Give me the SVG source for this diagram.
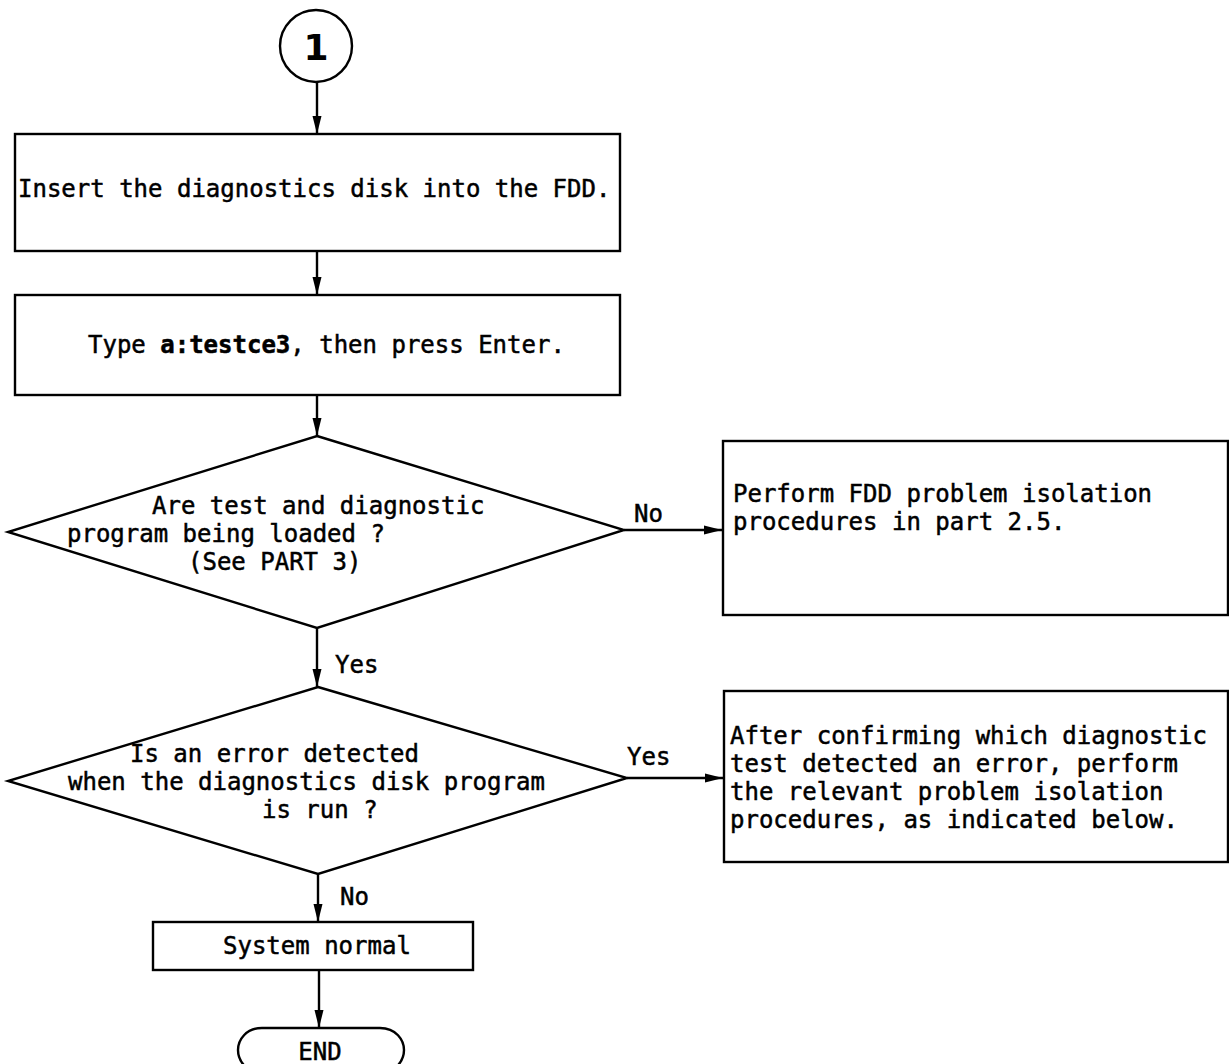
<svg xmlns="http://www.w3.org/2000/svg" width="1229" height="1064" viewBox="0 0 1229 1064">
<defs>
<style>
.s{fill:none;stroke:#000;stroke-width:2.4}
.t{font-family:"DejaVu Sans Mono","Liberation Mono",monospace;font-size:24px;fill:#000;stroke:#000;stroke-width:0.5}
.c{stroke:#000;stroke-width:2.4;fill:none}
.b{font-weight:bold}
</style>
<marker id="ah" markerWidth="18" markerHeight="10" refX="18" refY="5" orient="auto" markerUnits="userSpaceOnUse"><path d="M0,0.5 L18,5 L0,9.5 Z" fill="#000"/></marker>
</defs>
<rect width="1229" height="1064" fill="#fff"/>
<g id="start">
<circle class="s" cx="316" cy="46" r="36"/>
<text x="316" y="60" text-anchor="middle" style="font-family:'DejaVu Sans',sans-serif;font-size:36px;font-weight:bold">1</text>
</g>
<g id="insert">
<rect class="s" x="15" y="134" width="605" height="117"/>
<text class="t" x="18" y="197">Insert the diagnostics disk into the FDD.</text>
</g>
<g id="type">
<rect class="s" x="15" y="295" width="605" height="100"/>
<text class="t" x="88" y="353">Type <tspan class="b">a:testce3</tspan>, then press Enter.</text>
</g>
<g id="decision1">
<polygon class="s" points="317,436 624,530 317,628 8,532"/>
<text class="t" x="152" y="514">Are test and diagnostic</text>
<text class="t" x="67" y="542">program being loaded ?</text>
<text class="t" x="188" y="570">(See PART 3)</text>
</g>
<g id="fdd">
<rect class="s" x="723" y="441" width="505" height="174"/>
<text class="t" x="733" y="502">Perform FDD problem isolation</text>
<text class="t" x="733" y="530">procedures in part 2.5.</text>
</g>
<g id="decision2">
<polygon class="s" points="318,687 627,778 318,874 8,781"/>
<text class="t" x="130" y="762">Is an error detected</text>
<text class="t" x="68" y="790">when the diagnostics disk program</text>
<text class="t" x="262" y="818">is run ?</text>
</g>
<g id="isolate">
<rect class="s" x="724" y="691" width="504" height="171"/>
<text class="t" x="730" y="744">After confirming which diagnostic</text>
<text class="t" x="730" y="772">test detected an error, perform</text>
<text class="t" x="730" y="800">the relevant problem isolation</text>
<text class="t" x="730" y="828">procedures, as indicated below.</text>
</g>
<g id="normal">
<rect class="s" x="153" y="922" width="320" height="48"/>
<text class="t" x="223" y="954">System normal</text>
</g>
<g id="end">
<path class="s" d="M262,1028 H380 C396,1028 404,1040 404,1050 C404,1060 396,1073 380,1073 H262 C246,1073 238,1060 238,1050 C238,1040 246,1028 262,1028 Z"/>
<text class="t" x="320" y="1060" text-anchor="middle">END</text>
</g>
<g id="connectors">
<path class="c" d="M317,82 V134" marker-end="url(#ah)"/>
<path class="c" d="M317,251 V295" marker-end="url(#ah)"/>
<path class="c" d="M317,395 V436" marker-end="url(#ah)"/>
<path class="c" d="M624,530 H722" marker-end="url(#ah)"/>
<path class="c" d="M317,628 V687" marker-end="url(#ah)"/>
<path class="c" d="M627,778 H723" marker-end="url(#ah)"/>
<path class="c" d="M318,874 V922" marker-end="url(#ah)"/>
<path class="c" d="M319,970 V1028" marker-end="url(#ah)"/>
<text class="t" x="634" y="522">No</text>
<text class="t" x="335" y="673">Yes</text>
<text class="t" x="627" y="765">Yes</text>
<text class="t" x="340" y="905">No</text>
</g>
</svg>
